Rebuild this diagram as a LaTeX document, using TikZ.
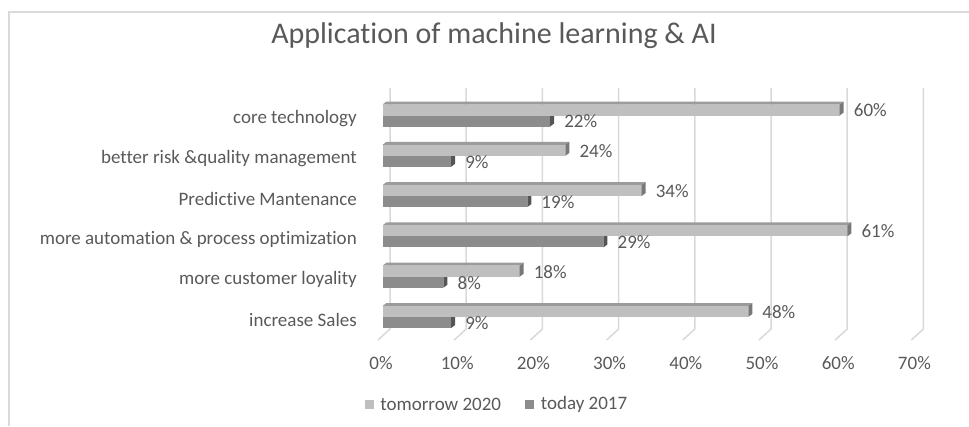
\documentclass[tikz,border=0pt]{standalone}
\usepackage{fontspec}
\setmainfont{Carlito}[RawFeature={-liga}]
\usepackage{tikz}
\usetikzlibrary{positioning}
\definecolor{textgray}{RGB}{89, 89, 89}
\definecolor{gridgray}{RGB}{217, 217, 217}
\definecolor{lightbar}{RGB}{191, 191, 191}
\definecolor{lighttop}{RGB}{155, 155, 155}
\definecolor{lightside}{RGB}{120, 120, 120}
\definecolor{darkbar}{RGB}{140, 140, 140}
\definecolor{darkside}{RGB}{85, 85, 85}

\begin{document}
\begin{tikzpicture}[
    x=1pt, y=-1pt,
    label/.style={inner sep=0pt, text=textgray, font=\fontsize{19}{22}\selectfont},
    catlabel/.style={label, anchor=east},
    vallabel/.style={label, anchor=west},
    ticklabel/.style={label, anchor=center},
    gridline/.style={draw=gridgray, line width=1.5pt},
    keysquare/.style={rectangle, inner sep=0pt, minimum size=9pt}
]
\useasboundingbox (0,0) rectangle (969,426);

% Frame
\draw[gridgray, line width=2pt] (9,426) -- (9,12) -- (969,12);

% Title
\node[label, font=\fontsize{30}{35}\selectfont] (title) at (494,36) {Application of machine learning \& AI};

% Gridlines and axis
\foreach \k in {0,...,7} {
    \draw[gridline] ({390+76.2*\k},88) -- ({390+76.2*\k},329) -- ({378+76.2*\k},340);
    \pgfmathtruncatemacro\pct{10*\k}
    \node[ticklabel] (tick\k) at ({381+76.2*\k},363) {\pct\%};
}

% Bars: today 2017 (dark) below tomorrow 2020 (light)
\foreach \cat/\lt/\dk [count=\i from 0] in {
    core technology/60/22,
    better risk \&quality management/24/9,
    Predictive Mantenance/34/19,
    more automation \& process optimization/61/29,
    more customer loyality/18/8,
    increase Sales/48/9} {
    \pgfmathsetmacro\c{115.5+40.3*\i}
    \pgfmathsetmacro\xl{382.5+7.62*\lt}
    \pgfmathsetmacro\xd{382.5+7.62*\dk}
    % dark bar
    \fill[darkbar] (382.5,\c) rectangle (\xd,\c+11);
    \fill[darkside] (\xd,\c) -- (\xd+4,\c-3) -- (\xd+4,\c+8) -- (\xd,\c+11) -- cycle;
    % light bar
    \fill[lighttop] (382.5,\c-11) -- (386.5,\c-14) -- (\xl+4,\c-14) -- (\xl,\c-11) -- cycle;
    \fill[lightbar] (382.5,\c-11) rectangle (\xl,\c);
    \fill[lightside] (\xl,\c-11) -- (\xl+4,\c-14) -- (\xl+4,\c-3) -- (\xl,\c) -- cycle;
    % labels
    \node[catlabel] (cat\i) at (357,\c+3) {\cat};
    \node[vallabel] (lt\i) at (\xl+14,\c-5) {\lt\%};
    \node[vallabel] (dk\i) at (\xd+14,\c+6) {\dk\%};
}

% Legend
\node[keysquare, fill=lightbar] (keyA) at (369.5,404.5) {};
\node[label, right=6pt of keyA] (keytxtA) {tomorrow 2020};
\node[keysquare, fill=darkbar, right=24pt of keytxtA] (keyB) {};
\node[label, right=6pt of keyB] (keytxtB) {today 2017};

\end{tikzpicture}
\end{document}
